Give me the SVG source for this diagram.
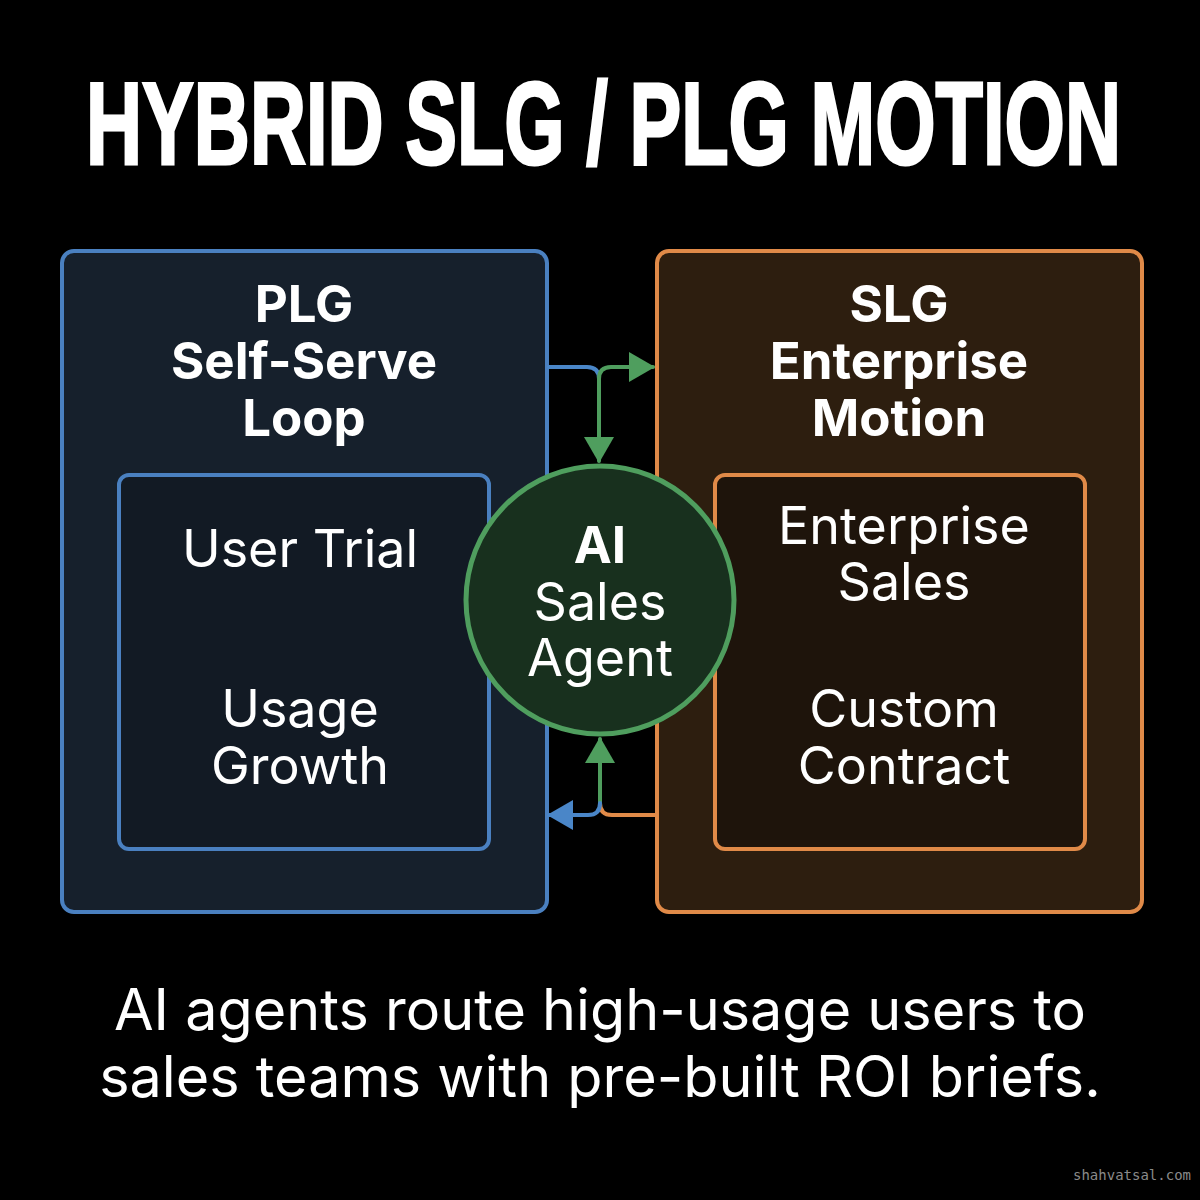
<svg xmlns="http://www.w3.org/2000/svg" width="1200" height="1200" viewBox="0 0 1200 1200">
<defs>
<style>
.t{font-family:Inter,"Noto Sans","Liberation Sans",sans-serif;fill:#ffffff;text-anchor:middle}
.h{font-weight:700;font-size:51px}
.r{font-weight:400;font-size:52px}
.title{font-family:"Liberation Sans",Arial,sans-serif;font-weight:700;font-size:116px;fill:#ffffff;stroke:#ffffff;stroke-width:3}
.foot{font-family:Inter,"Noto Sans","Liberation Sans",sans-serif;font-size:57.5px;fill:#ffffff;text-anchor:middle}
.wm{font-family:"DejaVu Sans Mono","Liberation Mono",monospace;font-size:14px;fill:#8a8a8a}
.ln{fill:none;stroke-width:4;stroke-linecap:round;stroke-linejoin:round}
</style>
<marker id="ag" viewBox="0 0 26 30" refX="24" refY="15" markerWidth="26" markerHeight="30" markerUnits="userSpaceOnUse" orient="auto"><path d="M0,0 L26,15 L0,30 Z" fill="#4f9e5e"/></marker>
<marker id="ab" viewBox="0 0 26 30" refX="24" refY="15" markerWidth="26" markerHeight="30" markerUnits="userSpaceOnUse" orient="auto"><path d="M0,0 L26,15 L0,30 Z" fill="#4a86c8"/></marker>
</defs>
<rect width="1200" height="1200" fill="#000000"/>
<text class="title" x="86" y="164" textLength="1035" lengthAdjust="spacingAndGlyphs">HYBRID SLG / PLG MOTION</text>

<g id="plg">
<rect x="62" y="251" width="485" height="661" rx="12" fill="#16202c" stroke="#4a80c0" stroke-width="4"/>
<text class="t h" x="304" y="322">PLG</text>
<text class="t h" x="304" y="379">Self-Serve</text>
<text class="t h" x="304" y="436">Loop</text>
</g>
<g id="plg-inner">
<rect x="119" y="475" width="370" height="374" rx="10" fill="#121a24" stroke="#4a80c0" stroke-width="4"/>
<text class="t r" x="300" y="567">User Trial</text>
<text class="t r" x="300" y="727">Usage</text>
<text class="t r" x="300" y="784">Growth</text>
</g>

<g id="slg">
<rect x="657" y="251" width="485" height="661" rx="12" fill="#2d1e0f" stroke="#e08a48" stroke-width="4"/>
<text class="t h" x="899" y="322">SLG</text>
<text class="t h" x="899" y="379">Enterprise</text>
<text class="t h" x="899" y="436">Motion</text>
</g>
<g id="slg-inner">
<rect x="715" y="475" width="370" height="374" rx="10" fill="#1e140b" stroke="#e08a48" stroke-width="4"/>
<text class="t r" x="904" y="544">Enterprise</text>
<text class="t r" x="904" y="600">Sales</text>
<text class="t r" x="904" y="727">Custom</text>
<text class="t r" x="904" y="784">Contract</text>
</g>

<g id="connectors">
<path class="ln" d="M549,367 H587 Q599,367 599,379" stroke="#4a86c8"/>
<path class="ln" d="M599,379 V461" stroke="#4f9e5e" marker-end="url(#ag)"/>
<path class="ln" d="M599,392 V379 Q599,367 611,367 H653" stroke="#4f9e5e" marker-end="url(#ag)"/>
<path class="ln" d="M655,815 H612 Q600,815 600,803" stroke="#e08a48"/>
<path class="ln" d="M600,803 V739" stroke="#4f9e5e" marker-end="url(#ag)"/>
<path class="ln" d="M600,803 Q600,815 588,815 H549" stroke="#4a86c8" marker-end="url(#ab)"/>
</g>

<g id="agent">
<circle cx="600" cy="600" r="134" fill="#18301e" stroke="#4f9e5e" stroke-width="5"/>
<text class="t h" x="600" y="563">AI</text>
<text class="t r" x="600" y="620">Sales</text>
<text class="t r" x="600" y="676">Agent</text>
</g>

<text class="foot" x="600" y="1030">AI agents route high-usage users to</text>
<text class="foot" x="600" y="1097">sales teams with pre-built ROI briefs.</text>
<text class="wm" x="1073" y="1180">shahvatsal.com</text>
</svg>
